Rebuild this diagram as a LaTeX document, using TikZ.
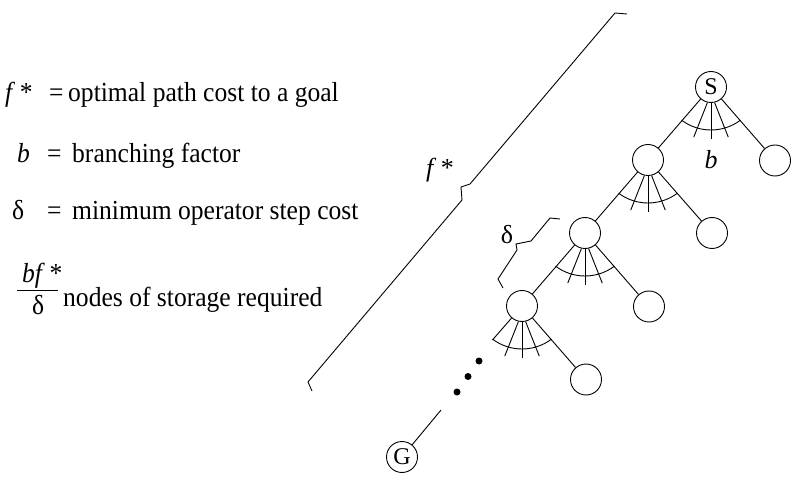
\documentclass[tikz,border=0pt]{standalone}
\usepackage{fontspec}
\setmainfont{Liberation Serif}
\newfontfamily\legendfont{Liberation Serif}[FakeStretch=0.93]
\usetikzlibrary{calc}
\begin{document}
\begin{tikzpicture}[x=1pt,y=1pt,
  treenode/.style={draw, circle, minimum size=31pt, inner sep=0pt, line width=0.9pt, font=\fontsize{24}{26}\selectfont},
  edge/.style={line width=0.9pt},
  txt/.style={inner sep=0pt, anchor=base west, font=\legendfont\fontsize{27.5}{32}\selectfont},
  lbl/.style={inner sep=0pt, font=\fontsize{26}{30}\selectfont},
  blackdot/.style={circle, fill=black, inner sep=0pt, minimum size=7pt}
]
\useasboundingbox (0,0) rectangle (795,-486);

% tree nodes
\node[treenode] (S) at (711,-87) {S};
\node[treenode] (SR) at (775,-160.5) {};
\node[treenode] (L1) at (648,-160) {};
\node[treenode] (L1R) at (712,-233) {};
\node[treenode] (L2) at (585,-233) {};
\node[treenode] (L2R) at (649,-306.5) {};
\node[treenode] (L3) at (522,-306) {};
\node[treenode] (L3R) at (586,-379.5) {};
\node[treenode] (G) at (402,-457) {G};

% edges
\draw[edge] (S) -- (L1);
\draw[edge] (S) -- (SR);
\draw[edge] (L1) -- (L1R);
\draw[edge] (L1) -- (L2);
\draw[edge] (L2) -- (L2R);
\draw[edge] (L2) -- (L3);
\draw[edge] (L3) -- (L3R);
\path (L3.center) ++(-131:45) coordinate (L3e);
\draw[edge] (L3) -- (L3e);

% branching fans
\foreach \n in {S,L1,L2,L3} {
  \draw[edge] ($(\n.center)+(0,6)+(-127:49)$) arc[start angle=-127, end angle=-53, radius=49];
  \draw[edge] (\n.-103) -- ($(\n.center)+(-109:53)$);
  \draw[edge] (\n.-90) -- ($(\n.center)+(-90:52)$);
  \draw[edge] (\n.-77) -- ($(\n.center)+(-71:53)$);
}

% dots and goal line
\node[blackdot] (dotA) at (479,-361) {};
\node[blackdot] (dotB) at (468,-376.5) {};
\node[blackdot] (dotC) at (457,-392) {};
\path (G.center) ++(50.3:61) coordinate (Ge);
\draw[edge] (G) -- (Ge);

% braces
\draw[edge] (312,-391) -- (308,-382) -- (462,-200) -- (461,-187) -- (470,-184) -- (615,-13) -- (627,-14);
\draw[edge] (503,-288) -- (498,-279) -- (517,-250) -- (516,-244) -- (531,-241) -- (550,-218) -- (560,-219);

% labels in tree
\node[lbl] (fstar) at (440,-170) {\textit{f}\,*};
\node[lbl] (blab) at (711,-160) {\textit{b}};
\node[lbl] (dlab) at (507,-235) {δ};

% legend
\node[txt] (f1) at (5,-102) {\textit{f}\,*};
\node[txt] (e1) at (49,-102) {=};
\node[txt] (t1) at (68,-102) {optimal path cost to a goal};
\node[txt] (b2) at (17,-163) {\textit{b}};
\node[txt] (e2) at (47,-163) {=};
\node[txt] (t2) at (72,-163) {branching factor};
\node[txt] (dl3) at (12,-220) {δ};
\node[txt] (e3) at (47,-220) {=};
\node[txt] (t3) at (72,-220) {minimum operator step cost};
\node[txt] (num) at (22,-283) {\textit{bf}\,*};
\coordinate (barL) at (17,-291);
\coordinate (barR) at (58,-291);
\draw[line width=1pt] (barL) -- (barR);
\node[txt] (den) at (32,-314) {δ};
\node[txt] (t4) at (63,-306) {nodes of storage required};
\end{tikzpicture}
\end{document}
